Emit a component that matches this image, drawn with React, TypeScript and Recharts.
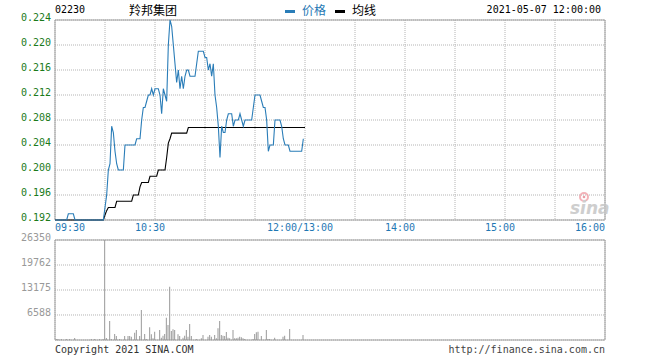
import React from 'react';
import { ComposedChart, Line, Bar, XAxis, YAxis, CartesianGrid, ReferenceArea } from 'recharts';

// ---------- data ----------
const stockCode = '02230';
const stockName = '羚邦集团';
const timestamp = '2021-05-07 12:00:00';
const legendPrice = '价格';
const legendAvg = '均线';
const copyright = 'Copyright 2021 SINA.COM';
const siteUrl = 'http://finance.sina.com.cn';
const prevClose = 0.19;

// price per minute from 09:30 (index = minutes after 09:30)
const priceValues: (number | null)[] = [
  0.192, 0.192, 0.192, 0.192, 0.192, 0.192, 0.192, 0.192,
  0.193, 0.193, 0.193, 0.193,
  0.192, 0.192, 0.192, 0.192, 0.192, 0.192, 0.192, 0.192, 0.192,
  0.192, 0.192, 0.192, 0.192, 0.192, 0.192, 0.192, 0.192, 0.192,
  0.194, 0.196, 0.200, 0.201, 0.207, 0.206, 0.203, 0.201,
  0.200, 0.200, 0.200, 0.200,
  0.204, 0.204, 0.204, 0.204, 0.204, 0.204, 0.204,
  0.205, 0.205, 0.205,
  0.208, 0.210, 0.210, 0.211, 0.212, 0.212, 0.213, 0.212,
  0.213, 0.213, 0.213, 0.212, 0.209, 0.213, 0.212, 0.211,
  0.220, 0.224, 0.223, 0.220, 0.217, 0.214, 0.216, 0.213,
  0.215, 0.213, 0.215, 0.216, 0.216,
  0.215, 0.215, 0.215, 0.215,
  0.217,
  0.219, 0.219, 0.219, 0.219,
  0.218, 0.218, 0.216, 0.217, 0.215, 0.217, 0.212, 0.210, 0.207, 0.202,
  0.207, 0.206, 0.206, 0.208,
  0.209, 0.209, 0.209,
  0.207,
  0.208, 0.208, 0.208,
  0.209, 0.208, 0.207,
  0.208, 0.208, 0.208, 0.208, 0.208,
  0.210,
  0.212, 0.212, 0.212, 0.212,
  0.211, 0.210, 0.210, 0.208, 0.203,
  0.204, 0.204, 0.204,
  0.208, 0.208, 0.208, 0.208,
  0.207, 0.205,
  0.204, 0.204, 0.204,
  0.203, 0.203, 0.203, 0.203, 0.203, 0.203, 0.203, 0.203,
  0.205,
  null,
];

// average price per minute
const avgValues: number[] = [
  0.192, 0.192, 0.192, 0.192, 0.192, 0.192, 0.192, 0.192, 0.192, 0.192,
  0.192, 0.192, 0.192, 0.192, 0.192, 0.192, 0.192, 0.192, 0.192, 0.192,
  0.192, 0.192, 0.192, 0.192, 0.192, 0.192, 0.192, 0.192, 0.192, 0.192,
  0.1928, 0.1935,
  0.194, 0.194, 0.194, 0.194, 0.194,
  0.195, 0.195, 0.195, 0.195, 0.195, 0.195, 0.195, 0.195, 0.195, 0.195,
  0.196, 0.196, 0.196, 0.196,
  0.1973,
  0.198, 0.198, 0.198, 0.198, 0.198,
  0.199, 0.199, 0.199, 0.199, 0.199,
  0.200, 0.200, 0.200, 0.200, 0.200,
  0.202, 0.2043, 0.205,
  0.2059, 0.2059, 0.2059, 0.2059, 0.2059, 0.2059, 0.2059, 0.2059, 0.2059, 0.2059,
  0.2068, 0.2068, 0.2068, 0.2068, 0.2068, 0.2068, 0.2068, 0.2068, 0.2068, 0.2068,
  0.2068, 0.2068, 0.2068, 0.2068, 0.2068, 0.2068, 0.2068, 0.2068, 0.2068, 0.2068,
  0.2068, 0.2068, 0.2068, 0.2068, 0.2068, 0.2068, 0.2068, 0.2068, 0.2068, 0.2068,
  0.2068, 0.2068, 0.2068, 0.2068, 0.2068, 0.2068, 0.2068, 0.2068, 0.2068, 0.2068,
  0.2068, 0.2068, 0.2068, 0.2068, 0.2068, 0.2068, 0.2068, 0.2068, 0.2068, 0.2068,
  0.2068, 0.2068, 0.2068, 0.2068, 0.2068, 0.2068, 0.2068, 0.2068, 0.2068, 0.2068,
  0.2068, 0.2068, 0.2068, 0.2068, 0.2068, 0.2068, 0.2068, 0.2068, 0.2068, 0.2068,
  0.2068,
];

// volume: minutes after 09:30 and traded shares
const volMinutes = [
  1, 2, 4, 7, 9, 12, 22, 24, 27, 29, 30, 31, 33, 34, 36, 37, 39, 42, 44, 45,
  46, 48, 49, 51, 52, 54, 55, 57, 58, 59, 60, 63, 64, 65, 66, 67, 68, 69, 70, 71,
  72, 74, 75, 77, 78, 79, 80, 81, 82, 85, 88, 89, 92, 93, 94, 96, 97, 98, 99, 100,
  101, 102, 103, 104, 105, 107, 108, 109, 110, 111, 112, 113, 114, 119, 120, 121, 122, 124, 127, 128,
  129, 132, 137, 138, 141, 149,
];
const volValues = [
  260, 260, 260, 260, 260, 530, 260, 260, 260, 260, 26350, 530, 5000, 260, 1580, 1050, 260, 1050, 1050, 1050,
  880, 1930, 2630, 1050, 7900, 1580, 260, 3340, 1490, 440, 2200, 2630, 620, 1140, 1580, 5880, 3950, 14050, 2370, 2810,
  2630, 1490, 1050, 620, 1140, 2630, 880, 4210, 1050, 260, 440, 1320, 880, 1320, 880, 1320, 440, 3070, 5000, 1320,
  1140, 1050, 2110, 620, 440, 2630, 440, 440, 620, 880, 700, 440, 260, 260, 1580, 2020, 2200, 1050, 2630, 260,
  260, 620, 880, 1140, 2900, 1320,
];

const priceTicks = [0.192, 0.196, 0.2, 0.204, 0.208, 0.212, 0.216, 0.22, 0.224];
const volTicks = [0, 6588, 13175, 19762, 26350];
const timeTicks = [0, 30, 60, 90, 120, 150, 180, 210, 240, 270, 300, 330];
const timeLabels: Record<number, string> = {
  0: '09:30',
  60: '10:30',
  150: '12:00/13:00',
  210: '14:00',
  270: '15:00',
  330: '16:00',
};

const priceData = priceValues.map((p, i) => ({ m: i, price: p, avg: avgValues[i] }));
const volData = volMinutes.map((m, i) => ({ m, vol: volValues[i] }));

// ---------- styles ----------
const MONO = '"DejaVu Sans Mono", "Liberation Mono", monospace';
const CJK = '"Noto Sans CJK SC", sans-serif';
const BLUE = '#1f78b4';
const LINE_BLUE = '#2a7db8';
const GREEN = '#1a7a1a';
const GRAY_TXT = '#999999';
const BORDER = '#a0a0a0';
const GRID = '#b4b4b4';

const TimeTick = (props: any) => {
  const { x, y, payload } = props;
  const label = timeLabels[payload.value];
  if (!label) return <g />;
  const anchor = payload.value === 0 ? 'start' : payload.value === 330 ? 'end' : 'middle';
  const dx = anchor === 'middle' ? -5 : 0;
  return (
    <text x={x + dx} y={y + 9} textAnchor={anchor} fill={BLUE} fontSize={10} fontFamily={MONO}>
      {label}
    </text>
  );
};

const PriceTick = (props: any) => {
  const { x, y, payload } = props;
  return (
    <text x={x} y={y + 1} textAnchor="end" fill={GREEN} fontSize={10} fontFamily={MONO}>
      {Number(payload.value).toFixed(3)}
    </text>
  );
};

const PctTick = (props: any) => {
  const { x, y, payload } = props;
  const pct = (Number(payload.value) / prevClose - 1) * 100;
  return (
    <text x={x} y={y + 1} textAnchor="start" fill={GREEN} fontSize={10} fontFamily={MONO}>
      {(pct >= 0 ? '+' : '') + pct.toFixed(2) + '%'}
    </text>
  );
};

const VolTick = (props: any) => {
  const { x, y, payload } = props;
  if (payload.value === 0) return <g />;
  return (
    <text x={x} y={y + 1} textAnchor="end" fill={GRAY_TXT} fontSize={10} fontFamily={MONO}>
      {String(payload.value)}
    </text>
  );
};

export default function App() {
  return (
    <div style={{ position: 'absolute', left: 0, top: 0, width: 660, height: 360, background: '#fff', overflow: 'hidden' }}>
      <div style={{ position: 'absolute', left: 0, top: 0 }}>
        <ComposedChart width={660} height={232} data={priceData} margin={{ top: 20, right: 0, bottom: 0, left: 0 }}>
          <CartesianGrid stroke={GRID} strokeDasharray="1 1" yAxisId="price" />
          <XAxis
            dataKey="m"
            type="number"
            domain={[0, 330]}
            ticks={timeTicks}
            height={12}
            tickSize={0}
            axisLine={false}
            tickLine={false}
            tick={<TimeTick />}
            interval={0}
          />
          <YAxis
            yAxisId="price"
            orientation="left"
            width={55}
            domain={[0.192, 0.224]}
            ticks={priceTicks}
            interval={0}
            axisLine={false}
            tickLine={false}
            tickSize={4}
            tickMargin={0}
            tick={<PriceTick />}
          />
          <YAxis
            yAxisId="pct"
            orientation="right"
            width={55}
            domain={[0.192, 0.224]}
            ticks={priceTicks}
            interval={0}
            axisLine={false}
            tickLine={false}
            tickSize={2}
            tickMargin={0}
            tick={<PctTick />}
          />
          <ReferenceArea yAxisId="price" x1={0} x2={330} y1={0.192} y2={0.224} fill="none" stroke={BORDER} strokeWidth={1} />
          <Line yAxisId="price" dataKey="avg" type="linear" stroke="#000" strokeWidth={1.1} dot={false} isAnimationActive={false} />
          <Line yAxisId="price" dataKey="price" type="linear" stroke={LINE_BLUE} strokeWidth={1.1} dot={false} isAnimationActive={false} />
        </ComposedChart>
      </div>
      <div style={{ position: 'absolute', left: 0, top: 230 }}>
        <ComposedChart width={660} height={120} data={volData} margin={{ top: 10, right: 55, bottom: 10, left: 0 }}>
          <CartesianGrid stroke={GRID} strokeDasharray="1 1" />
          <XAxis
            dataKey="m"
            type="number"
            domain={[0, 330]}
            ticks={timeTicks}
            height={0}
            tick={false}
            axisLine={false}
            tickLine={false}
            interval={0}
          />
          <YAxis
            width={55}
            domain={[0, 26350]}
            ticks={volTicks}
            interval={0}
            axisLine={false}
            tickLine={false}
            tickSize={4}
            tickMargin={0}
            tick={<VolTick />}
          />
          <ReferenceArea x1={0} x2={330} y1={0} y2={26350} fill="none" stroke={BORDER} strokeWidth={1} />
          <Bar dataKey="vol" fill="#999" barSize={1} isAnimationActive={false} />
        </ComposedChart>
      </div>
      <svg width={660} height={360} style={{ position: 'absolute', left: 0, top: 0, pointerEvents: 'none' }}>
        <text x={55} y={13} fontSize={10} fontFamily={MONO} fill="#000">{stockCode}</text>
        <text x={129} y={15} fontSize={12} fontFamily={CJK} fill="#000">{stockName}</text>
        <rect x={285} y={10} width={10} height={3} fill={LINE_BLUE} />
        <text x={302} y={15} fontSize={12} fontFamily={CJK} fill={BLUE}>{legendPrice}</text>
        <rect x={335} y={10} width={10} height={3} fill="#000" />
        <text x={352} y={15} fontSize={12} fontFamily={CJK} fill="#000">{legendAvg}</text>
        <text x={601} y={13} textAnchor="end" fontSize={10} fontFamily={MONO} fill="#000">{timestamp}</text>
        <text x={55} y={353} fontSize={10} fontFamily={MONO} fill="#333">{copyright}</text>
        <text x={605} y={353} textAnchor="end" fontSize={10} fontFamily={MONO} fill="#444">{siteUrl}</text>
        <g opacity={0.85}>
          <circle cx={584} cy={197} r={4} fill="none" stroke="#f2a6ad" strokeWidth={2} />
          <circle cx={584} cy={197} r={1.3} fill="#e88c96" />
          <text x={570} y={214} fontSize={17} fontStyle="italic" fontWeight="bold" fontFamily='"DejaVu Sans", sans-serif' fill="#c6c6c6">sina</text>
        </g>
      </svg>
    </div>
  );
}
